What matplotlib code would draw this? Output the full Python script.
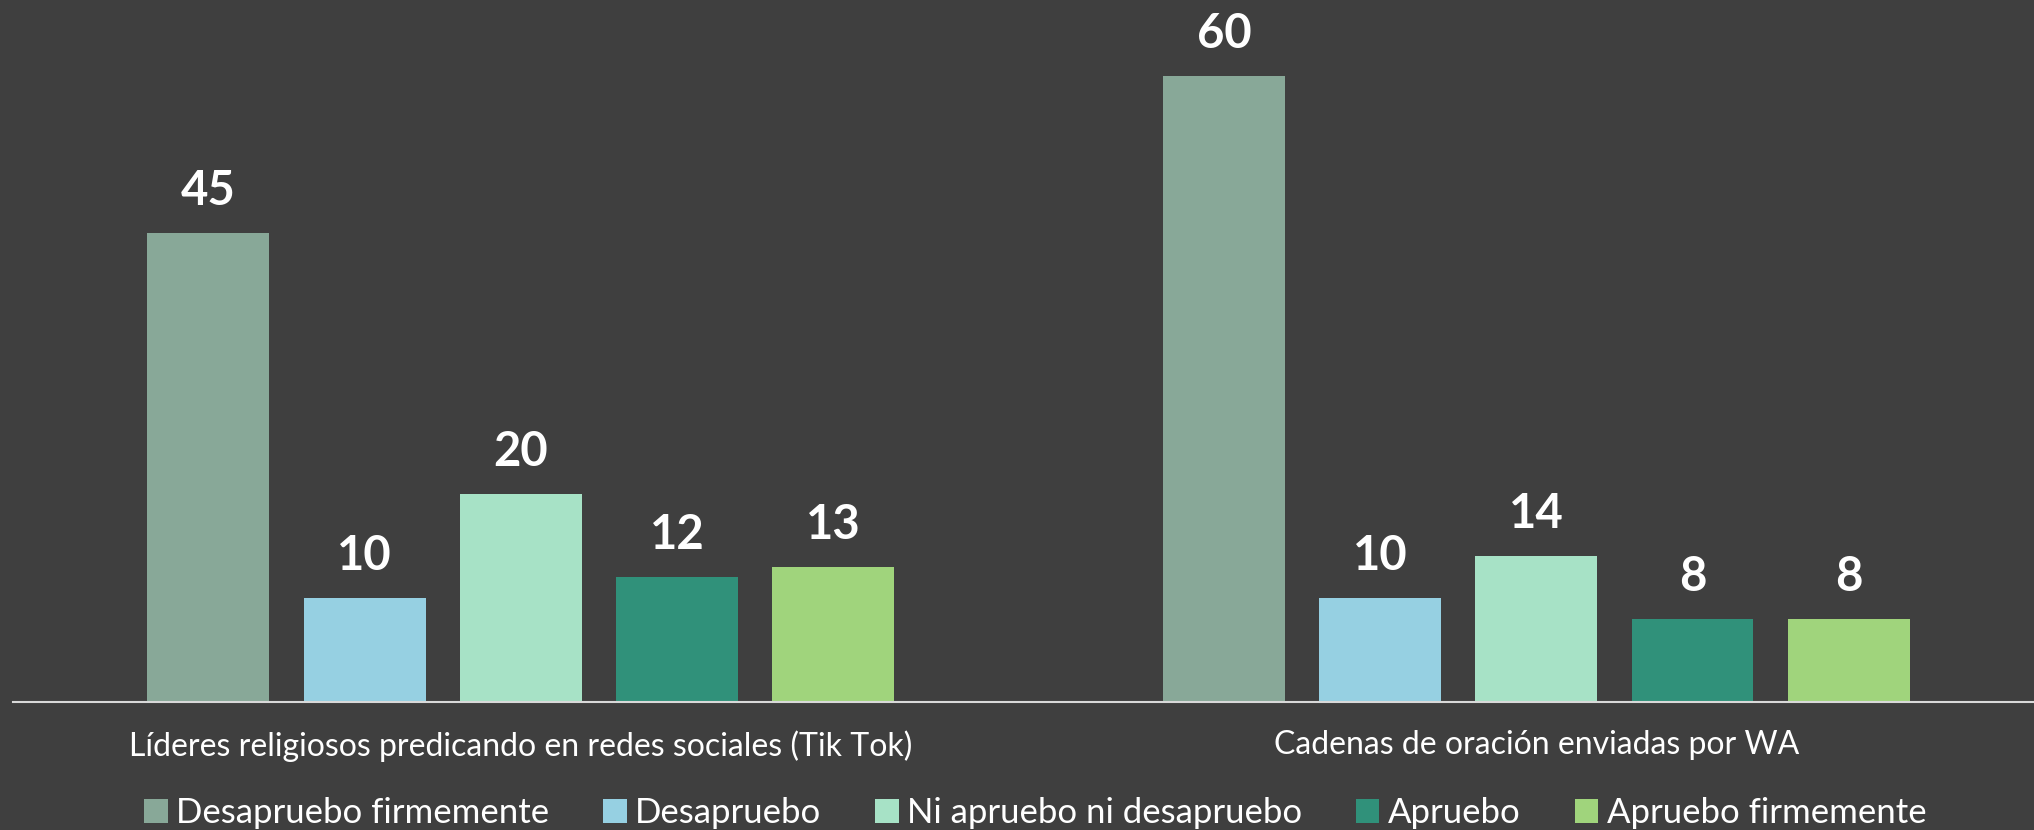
import numpy as np
import matplotlib
matplotlib.use('Agg')
import matplotlib.pyplot as plt
from matplotlib.patches import Patch

# Datos del gráfico
categorias = ['Líderes religiosos predicando en redes sociales (Tik Tok)',
              'Cadenas de oración enviadas por WA']
series = ['Desapruebo firmemente', 'Desapruebo', 'Ni apruebo ni desapruebo',
          'Apruebo', 'Apruebo firmemente']
desapruebo_firme = [45, 60]
desapruebo = [10, 10]
ni_ni = [20, 14]
apruebo = [12, 8]
apruebo_firme = [13, 8]

valores = [desapruebo_firme, desapruebo, ni_ni, apruebo, apruebo_firme]
colores = ['#88A898', '#96D0E2', '#A7E2C6', '#30917A', '#A0D47C']
fondo = '#3F3F3F'

plt.rcParams['font.family'] = ['Lato', 'DejaVu Sans']

fig = plt.figure(figsize=(20.34, 8.3), dpi=100, facecolor=fondo)
ax = fig.add_axes([0.0064, 0.154, 0.9936, 0.846])
ax.set_facecolor(fondo)

x = np.arange(len(categorias))
paso = 0.1538
ancho = 0.12
for i, (nombre, vals, col) in enumerate(zip(series, valores, colores)):
    pos = x + (i - 2) * paso
    barras = ax.bar(pos, vals, width=ancho, color=col, label=nombre, zorder=2)
    for b, v in zip(barras, vals):
        ax.annotate(str(v), (b.get_x() + b.get_width() / 2, v),
                    xytext=(0, 20), textcoords='offset pixels',
                    ha='center', va='bottom', color='white',
                    fontsize=34, fontweight='bold')

ax.set_xlim(-0.5, 1.49)
ax.set_ylim(0, 67.3)
ax.set_yticks([])
ax.set_xticks(x)
ax.set_xticklabels(categorias, color='white', fontsize=23)
ax.tick_params(axis='x', length=0, pad=20)
for s in ['top', 'right', 'left']:
    ax.spines[s].set_visible(False)
ax.spines['bottom'].set_color('#D9D9D9')
ax.spines['bottom'].set_linewidth(1.5)

handles = [Patch(facecolor=c, label=n) for n, c in zip(series, colores)]
leg = fig.legend(handles=handles, loc='center', bbox_to_anchor=(0.509, 0.02),
                 ncol=5, frameon=False, fontsize=25, labelcolor='white',
                 handlelength=0.67, handleheight=0.67, handletextpad=0.25,
                 columnspacing=1.55, borderaxespad=0)

fig.savefig('out.png', dpi=100, facecolor=fondo)
